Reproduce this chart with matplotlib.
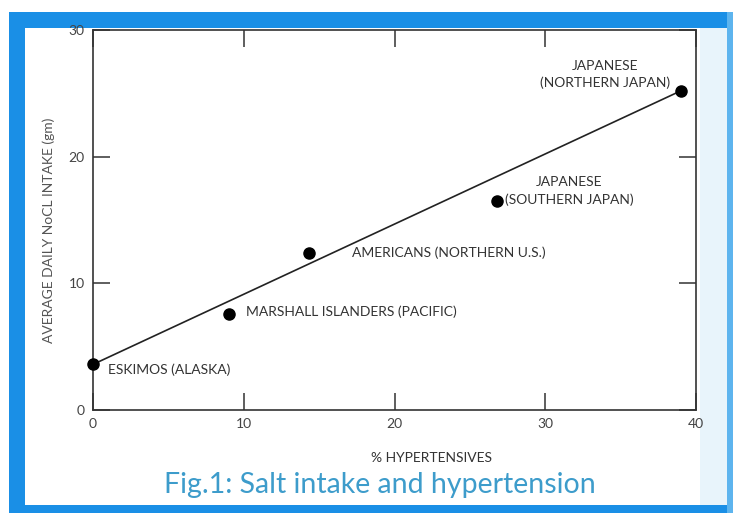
import matplotlib.pyplot as plt
from matplotlib.patches import Rectangle

# Data
groups = [
    "ESKIMOS (ALASKA)",
    "MARSHALL ISLANDERS (PACIFIC)",
    "AMERICANS (NORTHERN U.S.)",
    "JAPANESE\n(SOUTHERN JAPAN)",
    "JAPANESE\n(NORTHERN JAPAN)",
]
hypertensives = [0.0, 9.0, 14.3, 26.8, 39.0]
salt_intake = [3.6, 7.6, 12.4, 16.5, 25.2]

# Trend line end points
line_x = [0.0, 39.0]
line_y = [3.6, 25.2]

x_ticks = [0, 10, 20, 30, 40]
y_ticks = [0, 10, 20, 30]

plt.rcParams["font.family"] = ["Lato", "DejaVu Sans"]

fig = plt.figure(figsize=(7.33, 5.13), dpi=100)
fig.patch.set_facecolor("white")

# Blue frame around the figure
frame_blue = "#1a8fe6"
W, H = 733.0, 513.0
def px_rect(x0, y0, x1, y1, color):
    fig.patches.append(Rectangle((x0 / W, 1 - y1 / H), (x1 - x0) / W, (y1 - y0) / H,
                                 transform=fig.transFigure, color=color, zorder=-1, lw=0))

px_rect(700, 28, 727, 505, "#e8f4fb")
px_rect(9, 12, 733, 28, frame_blue)
px_rect(9, 12, 25, 513, frame_blue)
px_rect(9, 505, 733, 513, frame_blue)
px_rect(727, 12, 733, 513, "#5db4ee")

ax = fig.add_axes([93 / W, 1 - 410 / H, (696 - 93) / W, (410 - 30) / H])
ax.set_facecolor("none")

ax.plot(line_x, line_y, color="#222222", lw=1.2, zorder=2)
ax.plot(hypertensives, salt_intake, "o", color="black", ms=8, zorder=3, clip_on=False)

# Label offsets in pixels (ha, dx, dy)
label_style = [
    ("left", 15, -5),
    ("left", 17, 2),
    ("left", 43, 0),
    ("left", 8, 10),
    ("right", -11, 16),
]
for name, x, y, (ha, dx, dy) in zip(groups, hypertensives, salt_intake, label_style):
    ax.annotate(name, (x, y), xytext=(dx, dy), textcoords="offset pixels",
                ha=ha, va="center", multialignment="center", fontsize=10,
                color="#333333", linespacing=1.45)

ax.set_xlim(0, 40)
ax.set_ylim(0, 30)
ax.set_xticks(x_ticks)
ax.set_yticks(y_ticks)
ax.tick_params(direction="in", length=12, width=1.1, color="#333333",
               top=True, right=True, labelsize=10, labelcolor="#444444", pad=6)
for s in ax.spines.values():
    s.set_color("#333333")
    s.set_linewidth(1.2)

ax.set_xlabel("% HYPERTENSIVES", fontsize=10, color="#333333")
ax.xaxis.set_label_coords(0.562, -0.11)
ax.set_ylabel("AVERAGE DAILY NoCL INTAKE (gm)", fontsize=10, color="#555555")
ax.yaxis.set_label_coords(-0.063, 0.474)

fig.text(380 / W, 1 - 485 / H, "Fig.1: Salt intake and hypertension",
         ha="center", va="center", fontsize=20.5, color="#3d9ccb")

fig.savefig("out.png", dpi=100)
